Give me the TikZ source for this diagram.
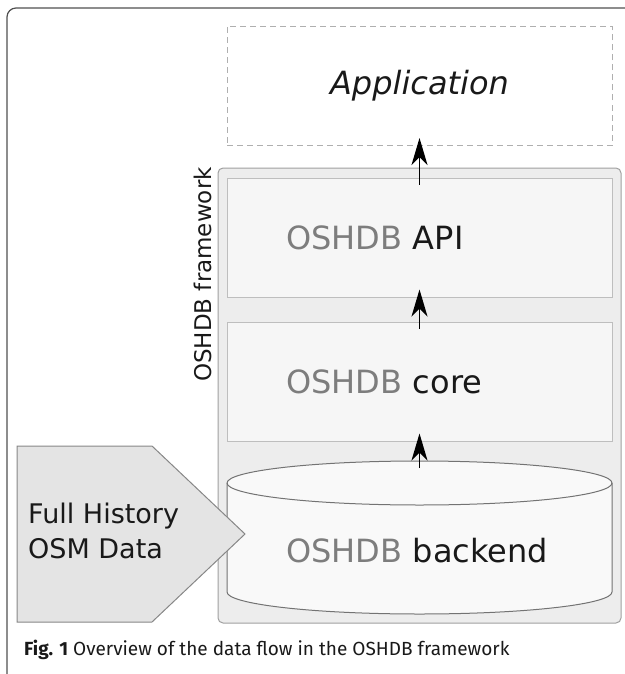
\documentclass[tikz,border=0pt]{standalone}
\usepackage{fontspec}
\setmainfont{DejaVu Sans}
\newfontfamily\captionFont{Fira Sans}
\usepackage{tikz}
\usetikzlibrary{positioning, arrows.meta}
\definecolor{frameColor}{RGB}{80, 80, 80}
\definecolor{dashGrey}{RGB}{175, 175, 175}
\definecolor{containerFill}{RGB}{237, 237, 237}
\definecolor{containerLine}{RGB}{160, 160, 160}
\definecolor{layerFill}{RGB}{246, 246, 246}
\definecolor{layerLine}{RGB}{190, 190, 190}
\definecolor{dbFill}{RGB}{249, 249, 249}
\definecolor{dbLine}{RGB}{115, 115, 115}
\definecolor{srcFill}{RGB}{228, 228, 228}
\definecolor{srcLine}{RGB}{135, 135, 135}
\definecolor{labelGrey}{RGB}{125, 125, 125}
\definecolor{textDark}{RGB}{25, 25, 25}
\newcommand{\oshdb}{\textcolor{labelGrey}{OSHDB}}
\tikzset{
    frame_line/.style={
        draw=frameColor,
        line width=1.2pt,
        rounded corners=9pt
    },
    app_box/.style={
        draw=dashGrey,
        line width=1pt,
        dash pattern=on 6pt off 4pt,
        minimum width=385pt,
        minimum height=119pt,
        inner sep=0pt,
        text=textDark,
        font=\fontsize{32}{38}\selectfont\itshape
    },
    frame_box/.style={
        rectangle,
        rounded corners=5pt,
        draw=containerLine,
        fill=containerFill,
        line width=1pt,
        minimum width=403pt,
        minimum height=455pt
    },
    layer_box/.style={
        draw=layerLine,
        fill=layerFill,
        line width=1pt,
        minimum width=385pt,
        minimum height=119pt,
        inner xsep=59pt,
        text width=267pt,
        align=left,
        text=textDark,
        font=\fontsize{32}{38}\selectfont
    },
    layer_text/.style={
        inner xsep=59pt,
        inner ysep=0pt,
        text width=267pt,
        align=left,
        text=textDark,
        font=\fontsize{32}{38}\selectfont
    },
    db_shape/.style={
        draw=dbLine,
        line width=1pt
    },
    src_shape/.style={
        draw=srcLine,
        fill=srcFill,
        line width=1pt
    },
    src_text/.style={
        inner sep=0pt,
        align=left,
        text=textDark,
        font=\fontsize{27}{35}\selectfont
    },
    fw_label/.style={
        inner sep=0pt,
        text=textDark,
        font=\fontsize{23}{28}\selectfont
    },
    caption_text/.style={
        inner sep=0pt,
        text=textDark,
        font=\captionFont\fontsize{19}{22}\selectfont
    },
    flow_edge/.style={
        -{Stealth[length=27pt, width=16pt, inset=8pt]},
        line width=1.5pt,
        draw=black,
        shorten <=-7pt,
        shorten >=-8pt
    }
}

\begin{document}
\begin{tikzpicture}[x=1pt, y=-1pt]
    \useasboundingbox (0,0) rectangle (624,674);

    % outer frame
    \draw[frame_line] (7,700) -- (7,8) -- (700,8);

    % framework container and layers
    \node[frame_box] (fw) at (419.5,395.5) {};
    \node[app_box] (app) at (419.5,86) {\raisebox{-6pt}{Application}};
    \node[layer_box, below=31.5pt of app] (api) {\oshdb{} API};
    \node[layer_box, below=24pt of api] (core) {\oshdb{} core};
    \node[fw_label, rotate=90, anchor=base] (fwlabel) at (211,274.5) {OSHDB framework};

    % backend cylinder
    \fill[dbFill] (227,483) -- (227,592) arc[start angle=180, end angle=360, x radius=192.5pt, y radius=22pt]
        -- (612,483) arc[start angle=0, end angle=180, x radius=192.5pt, y radius=22pt] -- cycle;
    \draw[db_shape] (227,483) -- (227,592) arc[start angle=180, end angle=360, x radius=192.5pt, y radius=22pt]
        -- (612,483) arc[start angle=0, end angle=180, x radius=192.5pt, y radius=22pt];
    \draw[db_shape] (227,483) arc[start angle=180, end angle=360, x radius=192.5pt, y radius=22pt];
    \coordinate (dbtop) at (419.5,461);
    \node[layer_text] (db) at (419.5,551) {\oshdb{} backend};

    % input data
    \draw[src_shape] (17,446) -- (152,446) -- (245,534) -- (152,622) -- (17,622) -- cycle;
    \node[src_text, anchor=west] (src) at (28,531.3) {Full History\\OSM Data};

    \draw[flow_edge] (api) -- (app);
    \draw[flow_edge] (core) -- (api);
    \draw[flow_edge] (dbtop) -- (core.south);

    \node[caption_text, anchor=base west] (caption) at (24,655)
        {\textbf{Fig. 1} Overview of the data flow in the OSHDB framework};
\end{tikzpicture}
\end{document}
